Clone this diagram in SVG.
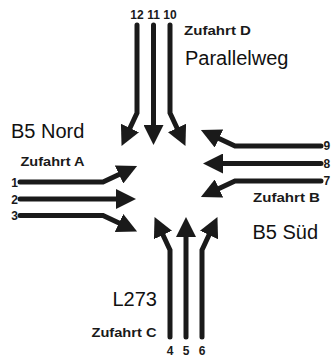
<svg xmlns="http://www.w3.org/2000/svg" width="332" height="358" viewBox="0 0 332 358">
<style>
.ln{fill:none;stroke:#1a1a1a;stroke-width:5;stroke-linecap:round;stroke-linejoin:miter;marker-end:url(#ah)}
.big{font-family:"Liberation Sans",Arial,sans-serif;font-size:20px;fill:#111}
.lab{font-family:"Liberation Sans",Arial,sans-serif;font-size:13px;font-weight:bold;fill:#1a1a1a}
.num{font-family:"Liberation Sans",Arial,sans-serif;font-size:12px;font-weight:bold;fill:#1a1a1a}
</style>
<defs>
<marker id="ah" markerUnits="userSpaceOnUse" viewBox="0 0 20 20" markerWidth="20" markerHeight="20" refX="0" refY="10" orient="auto">
<path d="M0,0 L20,10 L0,20 z" fill="#1a1a1a"/>
</marker>
</defs>
<rect width="332" height="358" fill="#fff"/>
<g id="connectors">
<path class="ln" d="M137,25 V113 L130,128"/>
<path class="ln" d="M153.5,25 V125"/>
<path class="ln" d="M170,25 V113 L177,128"/>
<path class="ln" d="M20,182 H103 L119,174.5"/>
<path class="ln" d="M20,199 H116"/>
<path class="ln" d="M20,215.5 H103 L119,223"/>
<path class="ln" d="M321,146 H235 L219,138.5"/>
<path class="ln" d="M321,163.5 H223"/>
<path class="ln" d="M321,181 H235 L219,188.5"/>
<path class="ln" d="M170,337 V250 L163,235"/>
<path class="ln" d="M186,337 V237"/>
<path class="ln" d="M202,337 V250 L209,235"/>
</g>
<g id="zufahrt-d">
<text class="num" x="137" y="18.5" text-anchor="middle" font-size="12.5">12</text>
<text class="num" x="153.5" y="18.5" text-anchor="middle" font-size="12.5">11</text>
<text class="num" x="170" y="18.5" text-anchor="middle" font-size="12.5">10</text>
<text class="lab" x="184" y="35" textLength="67" lengthAdjust="spacingAndGlyphs">Zufahrt D</text>
</g>
<g id="parallelweg"><text class="big" x="185" y="65">Parallelweg</text></g>
<g id="b5-nord"><text class="big" x="11" y="138">B5 Nord</text></g>
<g id="zufahrt-a">
<text class="lab" x="20.5" y="166" textLength="64" lengthAdjust="spacingAndGlyphs">Zufahrt A</text>
<text class="num" x="18" y="186.8" text-anchor="end" font-size="13">1</text>
<text class="num" x="18" y="203.8" text-anchor="end" font-size="13">2</text>
<text class="num" x="18" y="220.3" text-anchor="end" font-size="13">3</text>
</g>
<g id="zufahrt-b">
<text class="num" x="323.5" y="150.2" font-size="11.5">9</text>
<text class="num" x="323.5" y="167.7" font-size="11.5">8</text>
<text class="num" x="323.5" y="185.2" font-size="11.5">7</text>
<text class="lab" x="253" y="202" textLength="67" lengthAdjust="spacingAndGlyphs">Zufahrt B</text>
</g>
<g id="b5-sued"><text class="big" x="252.5" y="238.5">B5 Süd</text></g>
<g id="l273"><text class="big" x="112.5" y="306">L273</text></g>
<g id="zufahrt-c">
<text class="lab" x="91.5" y="337.3" textLength="65" lengthAdjust="spacingAndGlyphs">Zufahrt C</text>
<text class="num" x="170" y="355" text-anchor="middle" font-size="12.5">4</text>
<text class="num" x="186" y="355" text-anchor="middle" font-size="12.5">5</text>
<text class="num" x="202" y="355" text-anchor="middle" font-size="12.5">6</text>
</g>
</svg>
